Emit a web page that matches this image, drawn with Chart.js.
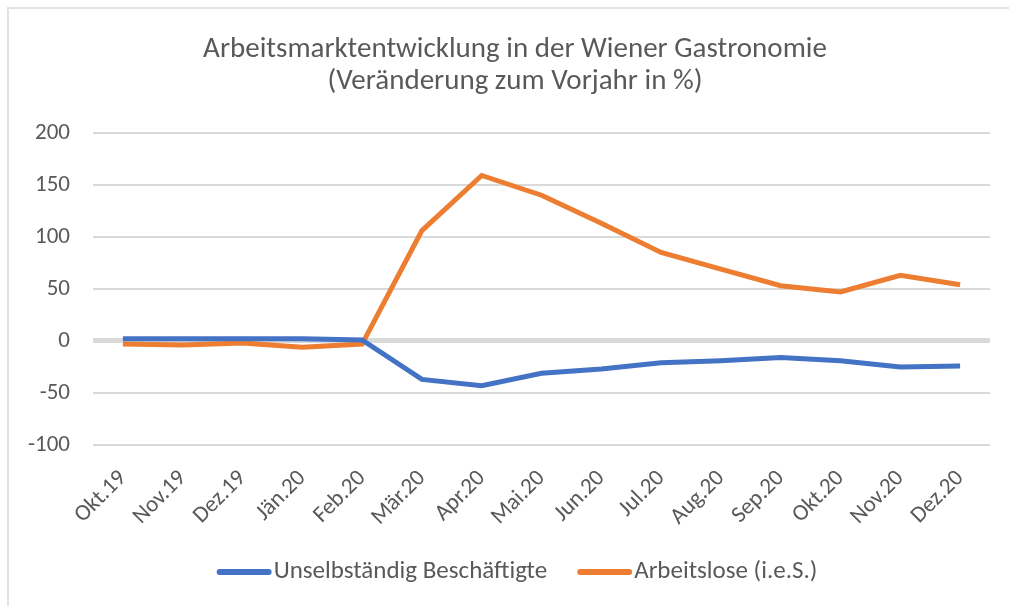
<!DOCTYPE html>
<html>
<head>
<meta charset="utf-8">
<script src="https://cdn.jsdelivr.net/npm/chart.js@4"></script>
<style>
    body { margin: 0; background: #fff; }
    #frame { position: absolute; left: 7px; top: 7px; width: 1010px; height: 610px; border-left: 2px solid #e3e3e3; border-top: 2px solid #e3e3e3; }
    #wrap { position: absolute; left: 0; top: 0; width: 1009px; height: 606px; }
</style>
</head>
<body>
<div id="frame"></div>
<div id="wrap"><canvas id="myChart"></canvas></div>
<script>
//Data
const months = ['Okt.19', 'Nov.19', 'Dez.19', 'Jän.20', 'Feb.20', 'Mär.20', 'Apr.20', 'Mai.20', 'Jun.20', 'Jul.20', 'Aug.20', 'Sep.20', 'Okt.20', 'Nov.20', 'Dez.20'];
const beschaeftigte = [2, 2, 2, 2, 1, -37, -43, -31, -27, -21, -19, -16, -19, -25, -24];
const arbeitslose = [-3, -4, -2, -6, -3, 106, 159, 140, 113, 85, 69, 53, 47, 63, 54];
const yTicks = [-100, -50, 0, 50, 100, 150, 200];

const fontFamily = 'Carlito, Lato, sans-serif';
const textColor = '#595959';

//Legend drawn by hand (line sample directly followed by text)
const customLegend = {
    id: 'customLegend',
    afterDraw(chart) {
        const ctx = chart.ctx;
        const sets = chart.data.datasets;
        const sampleW = 55, gapText = 2, gapItem = 30;
        ctx.save();
        ctx.font = '25px ' + fontFamily;
        let widths = sets.map(ds => sampleW + gapText + ctx.measureText(ds.label).width);
        let total = widths.reduce((a, b) => a + b, 0) + gapItem * (sets.length - 1);
        let x = 517 - total / 2;
        const y = 572;
        sets.forEach((ds, i) => {
            ctx.strokeStyle = ds.borderColor;
            ctx.lineWidth = 6;
            ctx.lineCap = 'round';
            ctx.beginPath();
            ctx.moveTo(x + 3, y);
            ctx.lineTo(x + sampleW - 3, y);
            ctx.stroke();
            ctx.fillStyle = textColor;
            ctx.textBaseline = 'middle';
            ctx.textAlign = 'left';
            ctx.fillText(ds.label, x + sampleW + gapText, y);
            x += widths[i] + gapItem;
        });
        ctx.restore();
    }
};

new Chart(document.getElementById('myChart'), {
    type: 'line',
    data: {
        labels: months,
        datasets: [{
            label: 'Unselbständig Beschäftigte',
            data: beschaeftigte,
            borderColor: '#4472C4',
            backgroundColor: '#4472C4',
            borderWidth: 5,
            pointRadius: 0,
            tension: 0
        }, {
            label: 'Arbeitslose (i.e.S.)',
            data: arbeitslose,
            borderColor: '#ED7D31',
            backgroundColor: '#ED7D31',
            borderWidth: 5,
            pointRadius: 0,
            tension: 0
        }]
    },
    plugins: [customLegend],
    options: {
        responsive: true,
        maintainAspectRatio: false,
        animation: false,
        layout: {padding: {left: 21, right: 0, top: 34, bottom: 54}},
        plugins: {
            title: {
                display: true,
                text: ['Arbeitsmarktentwicklung in der Wiener Gastronomie', '(Veränderung zum Vorjahr in %)'],
                color: textColor,
                font: {family: fontFamily, size: 29, weight: 'normal', lineHeight: 1.1},
                padding: {top: 0, bottom: 35}
            },
            legend: {display: false},
            tooltip: {enabled: false}
        },
        scales: {
            x: {
                offset: true,
                grid: {display: false},
                border: {display: false},
                ticks: {
                    color: textColor,
                    font: {family: fontFamily, size: 23},
                    minRotation: 45,
                    maxRotation: 45,
                    padding: 12
                },
                afterFit: function (scale) {
                    scale.height = 107;
                }
            },
            y: {
                min: -100,
                max: 200,
                afterBuildTicks: function (scale) {
                    scale.ticks = yTicks.map(v => ({value: v}));
                },
                grid: {
                    color: '#d9d9d9',
                    lineWidth: ctx => ctx.tick && ctx.tick.value === 0 ? 5 : 2,
                    drawTicks: false
                },
                border: {display: false},
                ticks: {
                    color: textColor,
                    font: {family: fontFamily, size: 23},
                    padding: 23
                },
                afterFit: function (scale) {
                    scale.width = 72;
                }
            },
            yRight: {
                position: 'right',
                grid: {display: false},
                border: {display: false},
                ticks: {display: false},
                afterFit: function (scale) {
                    scale.width = 19;
                }
            }
        }
    }
});
</script>
</body>
</html>
